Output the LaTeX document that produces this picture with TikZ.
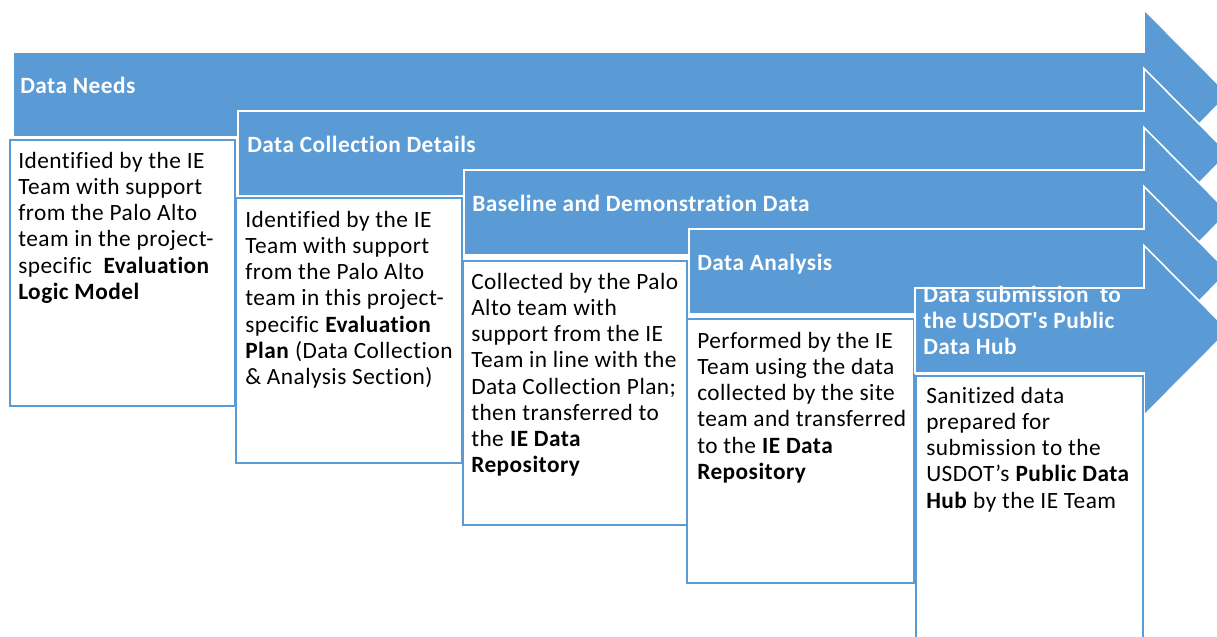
\documentclass[tikz,border=0pt]{standalone}
\usepackage{fontspec}
\setmainfont{Carlito}[Ligatures={NoCommon,TeXOff},LetterSpace=2]
\definecolor{ablue}{HTML}{5B9BD5}
\definecolor{bblue}{HTML}{5B9BD5}
\newcommand\procarrow[2]{% left, top
  \draw[arrowshape] (#1,#2) -- (1144,#2) -- (1144,#2-42.5) -- (1228.5,#2+42.5)
    -- (1144,#2+127.5) -- (1144,#2+85) -- (#1,#2+85) -- cycle;}
\begin{document}
\begin{tikzpicture}[x=0.75pt,y=-0.75pt,
  arrowshape/.style={fill=ablue,draw=white,line width=1.2pt,line join=miter},
  txtbox/.style={draw=bblue,fill=white,line width=1.5pt},
  title/.style={anchor=base west,inner sep=0pt,text=white,font=\fontsize{17.5}{19.7}\selectfont\bfseries},
  body/.style={anchor=base west,inner sep=0pt,font=\fontsize{17.5}{19.7}\selectfont}]
\useasboundingbox (0,0) rectangle (1217,636);
\clip (0,0) rectangle (1217,636);
% step 1
\procarrow{13}{52}
\node[title] (h1) at (20,93) {Data Needs};
\draw[txtbox] (10,140) rectangle (235,406);
\node[body] (t1) at (18,168) {\parbox[t]{300pt}{\raggedright
Identified by the IE\\Team with support\\from the Palo Alto\\team in the project-\\specific~ \textbf{Evaluation}\\\textbf{Logic Model}}};
% step 2
\procarrow{238}{111}
\node[title] (h2) at (247,152) {Data Collection Details};
\draw[txtbox] (236,198) rectangle (462,463);
\node[body] (t2) at (245,227) {\parbox[t]{300pt}{\raggedright
Identified by the IE\\Team with support\\from the Palo Alto\\team in this project-\\specific \textbf{Evaluation}\\\textbf{Plan} (Data Collection\\\& Analysis Section)}};
% step 3
\procarrow{464}{170}
\node[title] (h3) at (472,211) {Baseline and Demonstration Data};
\draw[txtbox] (463,261) rectangle (687,525);
\node[body] (t3) at (471,289) {\parbox[t]{300pt}{\raggedright
Collected by the Palo\\Alto team with\\support from the IE\\Team in line with the\\Data Collection Plan;\\then transferred to\\the \textbf{IE Data}\\\textbf{Repository}}};
% step 4
\procarrow{689}{229}
\node[title] (h4) at (697,270) {Data Analysis};
\draw[txtbox] (687,319) rectangle (914,583);
\node[body] (t4) at (697,348) {\parbox[t]{300pt}{\raggedright
Performed by the IE\\Team using the data\\collected by the site\\team and transferred\\to the \textbf{IE Data}\\\textbf{Repository}}};
% step 5
\procarrow{915}{288}
\node[title] (h5) at (923,302) {\parbox[t]{300pt}{\raggedright
Data submission~ to\\the USDOT's Public\\Data Hub}};
\draw[txtbox] (916,376) rectangle (1142.5,660);
\node[body] (t5) at (926,403) {\parbox[t]{300pt}{\raggedright
Sanitized data\\prepared for\\submission to the\\USDOT’s \textbf{Public Data}\\\textbf{Hub} by the IE Team}};
\end{tikzpicture}
\end{document}
